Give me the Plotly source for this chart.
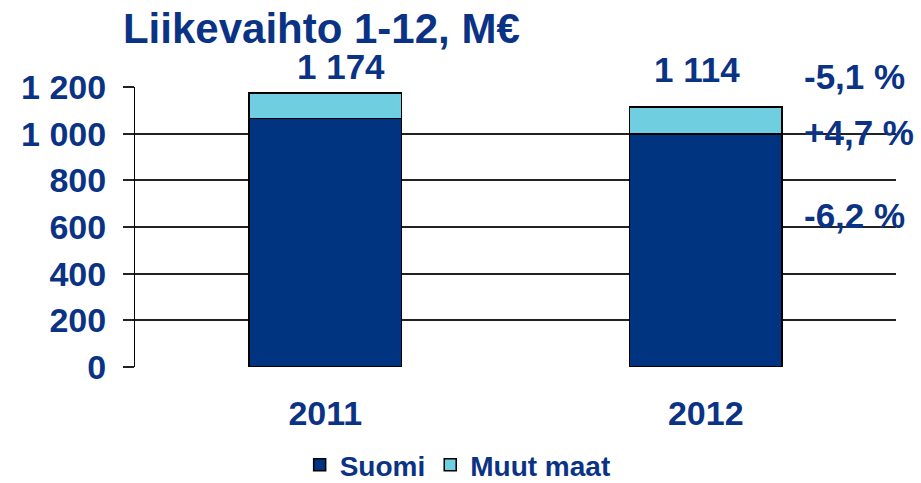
import plotly.graph_objects as go

years = ["2011", "2012"]
suomi = [1064, 998]
muut_maat = [110, 116]
totals = [1174, 1114]
total_labels = ["1 174", "1 114"]
change_labels = ["-5,1 %", "+4,7 %", "-6,2 %"]
change_y = [1245, 1007, 648]
y_ticks = [0, 200, 400, 600, 800, 1000, 1200]
y_tick_labels = ["0", "200", "400", "600", "800", "1 000", "1 200"]

TXT = "#0B3385"
DARK = "#003380"
LIGHT = "#6FCFE0"
FONT = "Liberation Sans, Arial, sans-serif"
YMAX = 1200

xpos = list(range(len(years)))

fig = go.Figure()
fig.add_trace(go.Bar(x=xpos, y=suomi, name="<b>Suomi</b>",
                     marker=dict(color=DARK, line=dict(color="black", width=1.5)), width=0.402))
fig.add_trace(go.Bar(x=xpos, y=muut_maat, name="<b>Muut maat</b>",
                     marker=dict(color=LIGHT, line=dict(color="black", width=1.5)), width=0.402))

xshifts = [16, -9]
yshifts = [27, 38]
for xp, t, lab, xs, ys in zip(xpos, totals, total_labels, xshifts, yshifts):
    fig.add_annotation(x=xp, y=t, xref="x", yref="y", text=f"<b>{lab}</b>", showarrow=False,
                       yanchor="middle", yshift=ys, xshift=xs,
                       font=dict(size=35, color=TXT, family=FONT))

for lab, yy in zip(change_labels, change_y):
    fig.add_annotation(xref="paper", x=0.876, xanchor="left", yref="paper", y=yy / YMAX,
                       text=f"<b>{lab}</b>", showarrow=False, yanchor="middle",
                       font=dict(size=35, color=TXT, family=FONT))

fig.update_layout(
    barmode="stack",
    width=921, height=483,
    margin=dict(l=135, r=25, t=87, b=116, autoexpand=False),
    paper_bgcolor="white", plot_bgcolor="white",
    title=dict(text="<b>Liikevaihto 1-12, M€</b>", x=0.1335, xanchor="left", y=0.942, yanchor="middle",
               font=dict(size=42, color=TXT, family=FONT)),
    font=dict(family=FONT, color=TXT),
    xaxis=dict(range=[-0.5, 1.5], showline=False, ticks="", showgrid=False, zeroline=False,
               tickmode="array", tickvals=xpos, ticktext=[f"<b>{y}</b>" for y in years],
               ticklabelstandoff=23, tickangle=0, automargin=False,
               tickfont=dict(size=34, color=TXT, family=FONT)),
    yaxis=dict(range=[0, YMAX], tickmode="array", tickvals=y_ticks,
               ticktext=[f"<b>{t}</b>" for t in y_tick_labels], automargin=False,
               tickfont=dict(size=34, color=TXT, family=FONT), showgrid=True, gridcolor="#222", gridwidth=1.5,
               showline=True, linecolor="black", linewidth=1, ticks="outside", ticklen=11, tickcolor="#222",
               tickwidth=1.5, zeroline=False, ticklabelstandoff=10),
    legend=dict(orientation="h", x=0.424, xanchor="center", y=-0.35, yanchor="middle",
                font=dict(size=28, color=TXT, family=FONT), traceorder="normal"),
)
fig.write_html("out.html", config={"displayModeBar": False},
               post_script="document.body.style.margin='0';")
